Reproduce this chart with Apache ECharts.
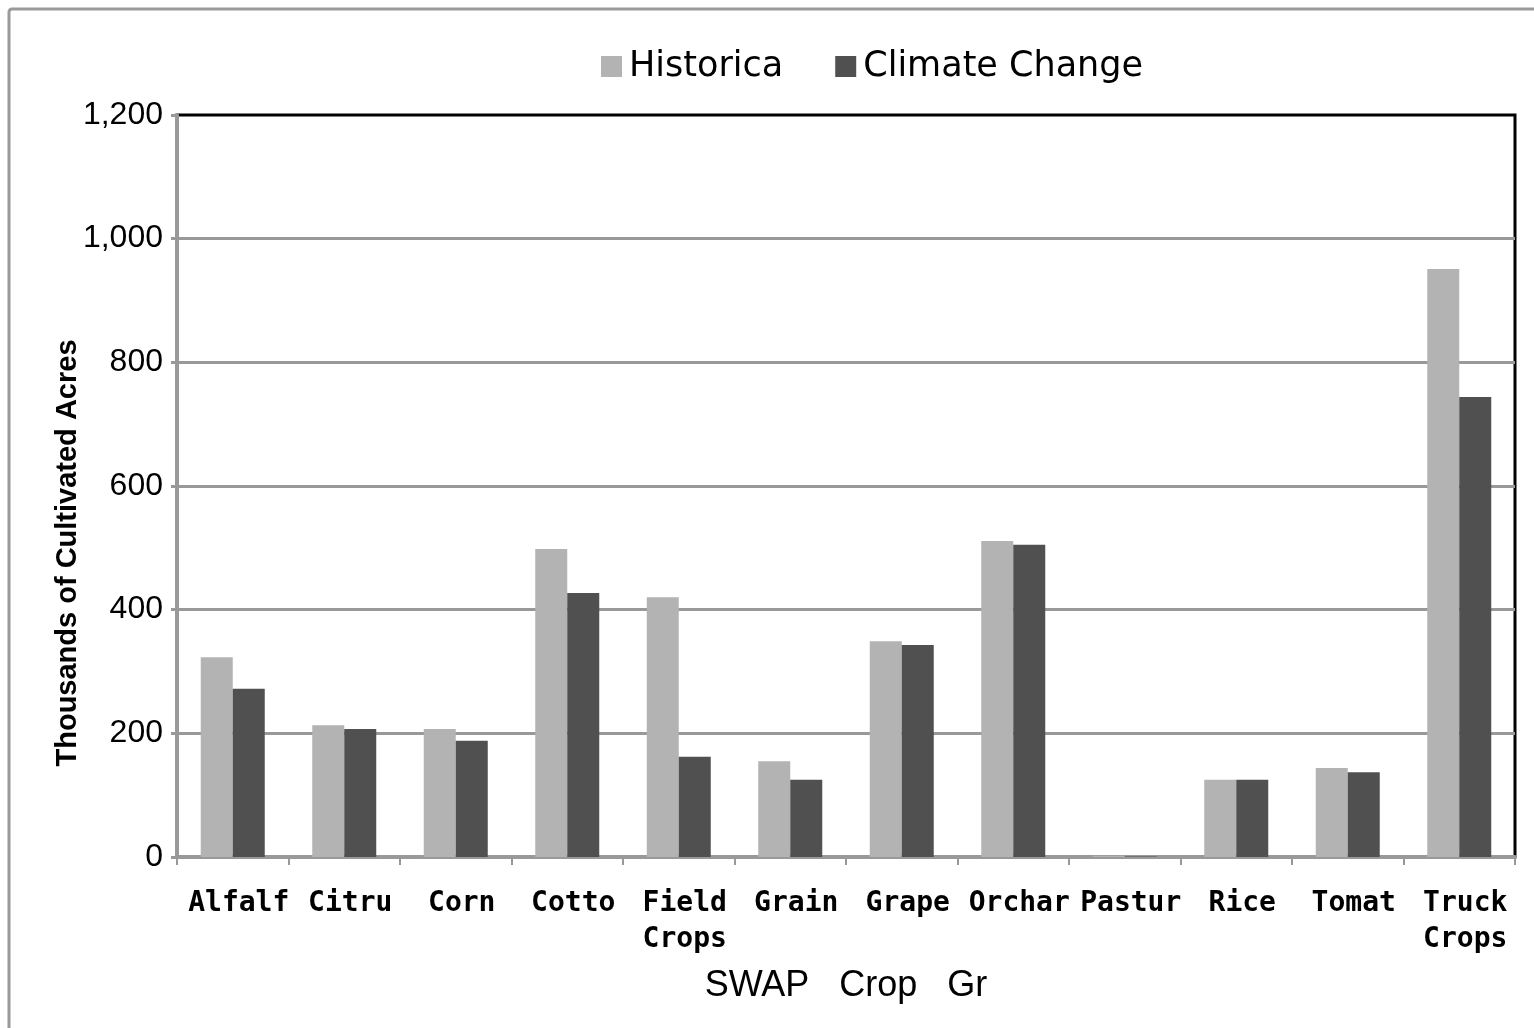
<!DOCTYPE html>
<html>
<head>
<meta charset="utf-8">
<script src="https://cdn.jsdelivr.net/npm/echarts@6/dist/echarts.min.js"></script>
<style>
html,body{margin:0;padding:0;background:#fff;}
#chart{width:1534px;height:1028px;}
</style>
</head>
<body>
<div id="chart"></div>
<script>
const tickLabels = ["Alfalf","Citru","Corn","Cotto","Field\nCrops","Grain","Grape","Orchar","Pastur","Rice","Tomat","Truck\nCrops"];
const seriesNames = ["Historica","Climate Change"];
const historical = [323, 213, 207, 498, 420, 155, 349, 511, 2, 125, 144, 951];
const climateChange = [272, 207, 188, 427, 162, 125, 343, 505, 1, 125, 137, 744];
const yTicks = {min: 0, max: 1200, interval: 200};

const chart = echarts.init(document.getElementById('chart'));
chart.setOption({
  backgroundColor: '#fff',
  animation: false,
  graphic: [{
    type: 'rect',
    shape: {x: 9, y: 9, width: 1700, height: 1200, r: 3},
    style: {fill: 'none', stroke: '#9a9a9a', lineWidth: 3},
    silent: true, z: -1
  }],
  legend: {
    top: 44,
    left: 596,
    itemWidth: 21,
    itemHeight: 21,
    itemGap: 52,
    icon: 'rect',
    textStyle: {fontFamily: 'DejaVu Sans', fontSize: 35, color: '#000', padding: [0,0,0,2]},
    data: seriesNames
  },
  grid: {
    left: 177, right: 19, top: 115, bottom: 171,
    show: true, borderColor: '#000', borderWidth: 3, backgroundColor: 'transparent'
  },
  xAxis: {
    type: 'category',
    data: tickLabels,
    name: 'SWAP   Crop   Gr',
    nameLocation: 'middle',
    nameGap: 111,
    nameMoveOverlap: false,
    nameTextStyle: {fontFamily: 'Liberation Sans', fontSize: 36, color: '#000'},
    axisLine: {show: true, lineStyle: {color: '#999', width: 4}},
    axisTick: {show: true, alignWithLabel: false, length: 8, lineStyle: {color: '#999', width: 2}},
    axisLabel: {
      interval: 0,
      margin: 29,
      fontFamily: 'DejaVu Sans Mono',
      fontWeight: 'bold',
      fontSize: 28,
      lineHeight: 36,
      color: '#000',
      padding: [0, 0, 0, 12]
    },
    splitLine: {show: false}
  },
  yAxis: {
    type: 'value',
    min: yTicks.min, max: yTicks.max, interval: yTicks.interval,
    name: 'Thousands of Cultivated Acres',
    nameLocation: 'middle',
    nameGap: 95,
    nameMoveOverlap: false,
    nameTextStyle: {fontFamily: 'Liberation Sans', fontWeight: 'bold', fontSize: 29, color: '#000', padding: [0, 134, 0, 0]},
    axisLine: {show: true, lineStyle: {color: '#999', width: 4}},
    axisTick: {show: true, length: 6, lineStyle: {color: '#999', width: 3}},
    axisLabel: {
      margin: 14,
      fontFamily: 'Liberation Sans',
      fontSize: 32,
      color: '#000',
      formatter: v => v.toLocaleString('en-US')
    },
    splitLine: {show: true, showMaxLine: false, lineStyle: {color: '#999', width: 3}}
  },
  series: [
    {name: seriesNames[0], type: 'bar', data: historical, barWidth: 32, barGap: '0%', itemStyle: {color: '#b3b3b3'}},
    {name: seriesNames[1], type: 'bar', data: climateChange, barWidth: 32, barGap: '0%', itemStyle: {color: '#505050'}}
  ]
});
</script>
</body>
</html>
